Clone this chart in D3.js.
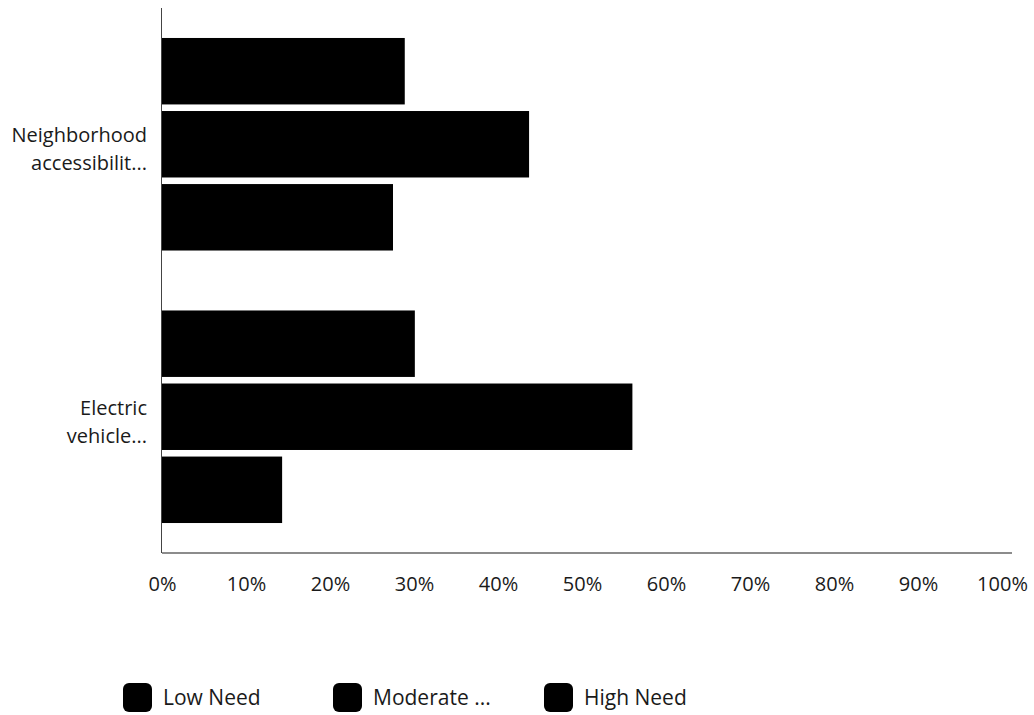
<!DOCTYPE html>
<html>
<head>
<meta charset="utf-8">
<script src="https://cdn.jsdelivr.net/npm/d3@7"></script>
<style>
  html, body { margin: 0; padding: 0; background: #fff; }
  svg { display: block; font-family: "Open Sans", "Noto Sans", sans-serif; }
</style>
</head>
<body>
<svg id="chart" width="1034" height="715"></svg>
<script>
// Categories (each label is shown on two lines)
const categories = ["Neighborhood accessibilit...", "Electric vehicle..."];
const categoryLines = [["Neighborhood", "accessibilit..."], ["Electric", "vehicle..."]];

// Series and their values (% of respondents)
const seriesNames = ["Low Need", "Moderate ...", "High Need"];
const lowNeed = [28.9, 30.1];
const moderateNeed = [43.7, 56.0];
const highNeed = [27.5, 14.3];

// Axis ticks
const tickValues = [0, 10, 20, 30, 40, 50, 60, 70, 80, 90, 100];

const seriesValues = [lowNeed, moderateNeed, highNeed];
const colors = ["#000000", "#000000", "#000000"];

const svg = d3.select("#chart");
const plot = { left: 162, right: 1002, top: 8, bottom: 553, axisEnd: 1012 };

const x = d3.scaleLinear().domain([0, 100]).range([plot.left, plot.right]);
const y0 = d3.scaleBand().domain(categories).range([plot.top, plot.bottom])
  .paddingInner(0.22).paddingOuter(0.11);
const y1 = d3.scaleBand().domain(seriesNames).range([0, y0.bandwidth()])
  .paddingInner(0.09).paddingOuter(0);

// Bars
const groups = svg.append("g").selectAll("g")
  .data(categories)
  .join("g")
  .attr("transform", d => `translate(0,${y0(d)})`);

groups.selectAll("rect")
  .data((c, ci) => seriesNames.map((s, si) => ({ s, v: seriesValues[si][ci], color: colors[si] })))
  .join("rect")
  .attr("x", x(0))
  .attr("y", d => y1(d.s))
  .attr("width", d => x(d.v) - x(0))
  .attr("height", y1.bandwidth())
  .attr("fill", d => d.color);

// Vertical axis line
svg.append("line")
  .attr("x1", plot.left - 0.5).attr("x2", plot.left - 0.5)
  .attr("y1", plot.top).attr("y2", plot.bottom)
  .attr("stroke", "#444").attr("stroke-width", 1);

// Category labels
const labelG = svg.append("g");
categories.forEach((c, i) => {
  const cy = y0(c) + y0.bandwidth() / 2;
  const t = labelG.append("text")
    .attr("text-anchor", "end")
    .attr("font-size", 20)
    .attr("fill", "#1a1a1a");
  categoryLines[i].forEach((line, li) => {
    t.append("tspan")
      .attr("x", 147)
      .attr("y", cy - 2 + li * 28)
      .text(line);
  });
});

// Bottom axis
const xAxis = d3.axisBottom(x)
  .tickValues(tickValues)
  .tickSize(0)
  .tickPadding(0)
  .tickFormat(d => d + "%");

const axisG = svg.append("g")
  .attr("transform", `translate(0,${plot.bottom})`)
  .call(xAxis);
axisG.select(".domain").remove();
axisG.selectAll("text")
  .attr("font-family", "'Open Sans', 'Noto Sans', sans-serif")
  .attr("font-size", 20)
  .attr("fill", "#1a1a1a")
  .attr("dy", 0)
  .attr("y", 38);

svg.append("line")
  .attr("x1", plot.left).attr("x2", plot.axisEnd)
  .attr("y1", plot.bottom).attr("y2", plot.bottom)
  .attr("stroke", "#666").attr("stroke-width", 1.5);

// Legend
const legendX = [123, 333, 544];
const legend = svg.append("g").selectAll("g")
  .data(seriesNames)
  .join("g")
  .attr("transform", (d, i) => `translate(${legendX[i]},683)`);
legend.append("rect")
  .attr("width", 29).attr("height", 29)
  .attr("rx", 6).attr("ry", 6)
  .attr("fill", (d, i) => colors[i]);
legend.append("text")
  .attr("x", 40).attr("y", 22)
  .attr("font-size", 21)
  .attr("fill", "#1a1a1a")
  .text(d => d);
</script>
</body>
</html>
